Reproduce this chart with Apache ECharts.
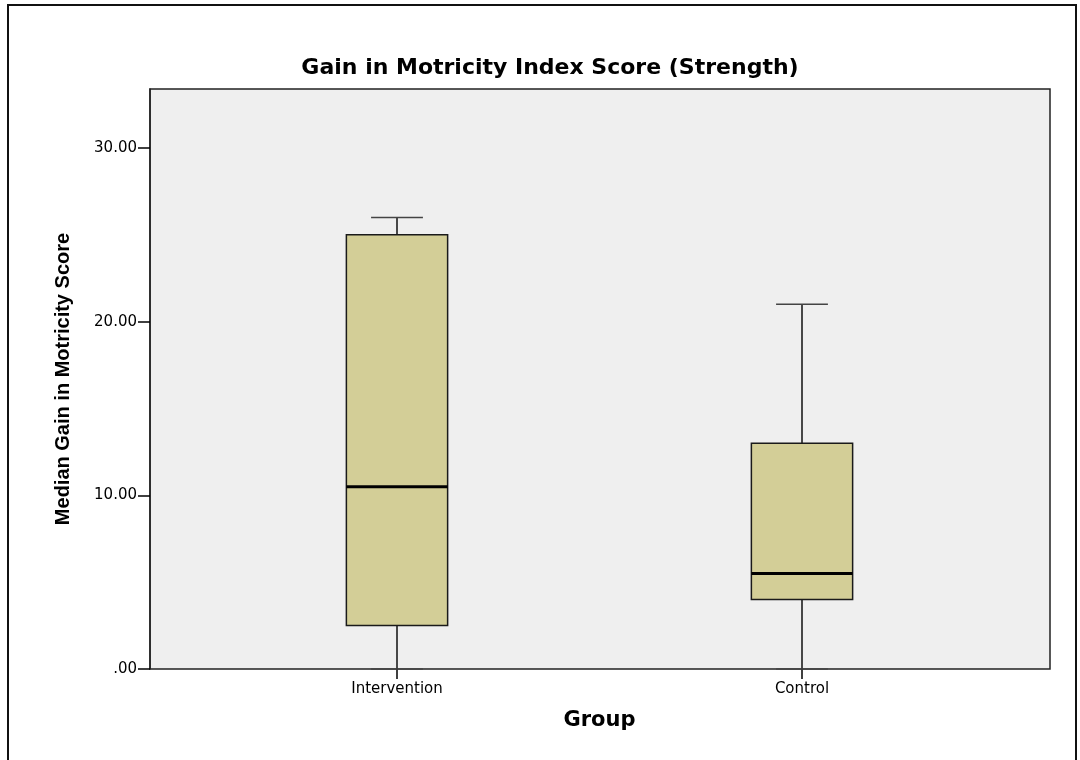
<!DOCTYPE html>
<html>
<head>
<meta charset="utf-8">
<script src="https://cdn.jsdelivr.net/npm/echarts@6/dist/echarts.min.js"></script>
<style>
  html, body { margin: 0; padding: 0; background: #ffffff; }
  #chart { width: 1080px; height: 760px; }
</style>
</head>
<body>
<div id="chart"></div>
<script>
// Five-number summaries per group: [min, Q1, median, Q3, max]
const groups = ['Intervention', 'Control'];
const whiskerLow = [0, 0];
const quartile1 = [2.5, 4];
const medians = [10.5, 5.5];
const quartile3 = [25, 13];
const whiskerHigh = [26, 21];
const yTicks = [0, 10, 20, 30];

const boxData = groups.map((g, i) => [i, whiskerLow[i], quartile1[i], medians[i], quartile3[i], whiskerHigh[i]]);

const fmt = v => (v === 0 ? '.00' : v.toFixed(2));
const Y_MAX = 33.4;
const WIDE_FONT = 'DejaVu Sans, Verdana, sans-serif';

function renderBox(params, api) {
  const idx = api.value(0);
  const band = api.size([1, 0])[0];
  const boxW = band * 0.25;
  const capW = band * 0.128;
  const pMin = api.coord([idx, api.value(1)]);
  const pQ1 = api.coord([idx, api.value(2)]);
  const pMed = api.coord([idx, api.value(3)]);
  const pQ3 = api.coord([idx, api.value(4)]);
  const pMax = api.coord([idx, api.value(5)]);
  const cx = pMed[0];
  const lineStyle = { stroke: '#111', lineWidth: 1.5 };
  return {
    type: 'group',
    children: [
      { type: 'line', shape: { x1: cx, y1: pMin[1], x2: cx, y2: pQ1[1] }, style: lineStyle },
      { type: 'line', shape: { x1: cx, y1: pQ3[1], x2: cx, y2: pMax[1] }, style: lineStyle },
      { type: 'line', shape: { x1: cx - capW / 2, y1: pMin[1], x2: cx + capW / 2, y2: pMin[1] }, style: { stroke: '#444', lineWidth: 1.5 } },
      { type: 'line', shape: { x1: cx - capW / 2, y1: pMax[1], x2: cx + capW / 2, y2: pMax[1] }, style: { stroke: '#444', lineWidth: 1.5 } },
      { type: 'rect', shape: { x: cx - boxW / 2, y: pQ3[1], width: boxW, height: pQ1[1] - pQ3[1] },
        style: { fill: '#d3ce97', stroke: '#1a1a1a', lineWidth: 1.5 } },
      { type: 'line', shape: { x1: cx - boxW / 2, y1: pMed[1], x2: cx + boxW / 2, y2: pMed[1] },
        style: { stroke: '#000', lineWidth: 3 } }
    ]
  };
}

const chart = echarts.init(document.getElementById('chart'), null, { renderer: 'canvas' });
chart.setOption({
  backgroundColor: '#ffffff',
  animation: false,
  textStyle: { fontFamily: WIDE_FONT },
  title: {
    text: 'Gain in Motricity Index Score (Strength)',
    left: 545, top: 52, textAlign: 'center',
    textStyle: { fontSize: 22, fontWeight: 'bold', color: '#000', fontFamily: WIDE_FONT }
  },
  graphic: [{
    type: 'rect', z: -10,
    shape: { x: 8, y: 5, width: 1068, height: 800 },
    style: { fill: 'none', stroke: '#111', lineWidth: 2 }
  }],
  grid: [
    { left: 150, right: 30, top: 89, bottom: 91, show: true, backgroundColor: '#efefef', borderColor: '#222', borderWidth: 1.5 },
    { left: 194.5, right: 75.5, top: 89, bottom: 91 }
  ],
  xAxis: [
    { gridIndex: 0, type: 'value', min: 0, max: 1, show: false },
    {
      gridIndex: 1, type: 'category', data: groups,
      name: 'Group', nameLocation: 'middle', nameGap: 41,
      nameTextStyle: { fontSize: 21, fontWeight: 'bold', color: '#000', fontFamily: WIDE_FONT },
      axisLine: { show: false },
      axisTick: { show: true, alignWithLabel: true, length: 10, lineStyle: { color: '#000', width: 1.5 } },
      axisLabel: { fontSize: 15, color: '#000', margin: 13, fontFamily: WIDE_FONT },
      splitLine: { show: false }
    }
  ],
  yAxis: [
    {
      gridIndex: 0, type: 'value', min: 0, max: Y_MAX, interval: 10,
      name: 'Median Gain in Motricity Score', nameLocation: 'middle', nameGap: 77,
      nameTextStyle: { fontSize: 20, fontWeight: 'bold', color: '#000', fontFamily: 'Liberation Sans Narrow, Arial Narrow, Liberation Sans, sans-serif' },
      axisLine: { show: true, lineStyle: { color: '#222', width: 1.5 } },
      axisTick: { show: true, length: 12, customValues: yTicks, lineStyle: { color: '#000', width: 1.5 } },
      axisLabel: { fontSize: 15, color: '#000', margin: 13, customValues: yTicks, formatter: fmt, fontFamily: WIDE_FONT },
      splitLine: { show: false }
    },
    { gridIndex: 1, type: 'value', min: 0, max: Y_MAX, show: false }
  ],
  series: [{
    type: 'custom',
    xAxisIndex: 1, yAxisIndex: 1,
    renderItem: renderBox,
    encode: { x: 0, y: [1, 2, 3, 4, 5] },
    data: boxData,
    clip: false
  }]
});
</script>
</body>
</html>
